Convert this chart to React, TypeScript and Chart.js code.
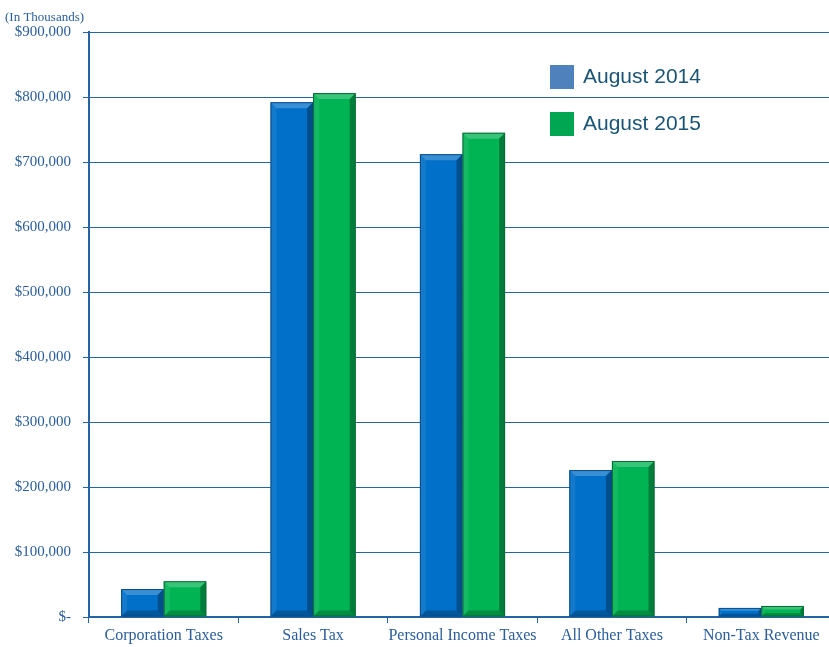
import React, { useEffect, useRef } from "react";
import { Chart, registerables } from "chart.js";

Chart.register(...registerables);

const categories = ["Corporation Taxes", "Sales Tax", "Personal Income Taxes", "All Other Taxes", "Non-Tax Revenue"];
const aug2014 = [43000, 792000, 712000, 226000, 14000];
const aug2015 = [55000, 806000, 745000, 240000, 17000];
const seriesNames = ["August 2014", "August 2015"];
const legendColors = ["#4F81BD", "#00A651"];
const barColors = ["#0070C8", "#00B454"];
const barEdges = ["#0A4A86", "#0B6B35"];

const AXIS = "#2464A4";
const TEXT = "#2A5D9B";

const bevelPlugin = {
  id: "bevel",
  afterDatasetsDraw(chart: any) {
    const ctx = chart.ctx;
    chart.data.datasets.forEach((ds: any, di: number) => {
      const meta = chart.getDatasetMeta(di);
      meta.data.forEach((bar: any) => {
        const { x, y, base, width } = bar.getProps(["x", "y", "base", "width"], true);
        const l = x - width / 2;
        const r = x + width / 2;
        const h = base - y;
        const b = Math.min(6, h / 3);
        ctx.save();
        ctx.fillStyle = "rgba(255,255,255,0.22)";
        ctx.beginPath();
        ctx.moveTo(l, y);
        ctx.lineTo(r, y);
        ctx.lineTo(r - b, y + b);
        ctx.lineTo(l + b, y + b);
        ctx.closePath();
        ctx.fill();
        ctx.fillStyle = "rgba(255,255,255,0.08)";
        ctx.beginPath();
        ctx.moveTo(l, y);
        ctx.lineTo(l + b, y + b);
        ctx.lineTo(l + b, base - b);
        ctx.lineTo(l, base);
        ctx.closePath();
        ctx.fill();
        ctx.fillStyle = "rgba(0,0,0,0.3)";
        ctx.beginPath();
        ctx.moveTo(r, y);
        ctx.lineTo(r, base);
        ctx.lineTo(r - b, base - b);
        ctx.lineTo(r - b, y + b);
        ctx.closePath();
        ctx.fill();
        ctx.fillStyle = "rgba(0,0,0,0.22)";
        ctx.beginPath();
        ctx.moveTo(l, base);
        ctx.lineTo(r, base);
        ctx.lineTo(r - b, base - b);
        ctx.lineTo(l + b, base - b);
        ctx.closePath();
        ctx.fill();
        ctx.strokeStyle = barEdges[di];
        ctx.lineWidth = 1;
        ctx.strokeRect(l + 0.5, y + 0.5, width - 1, h - 1);
        ctx.restore();
      });
    });
  },
};

const legendPlugin = {
  id: "customLegend",
  afterDraw(chart: any) {
    const ctx = chart.ctx;
    ctx.save();
    seriesNames.forEach((name, i) => {
      const top = 65 + i * 47;
      ctx.fillStyle = legendColors[i];
      ctx.fillRect(550, top, 24, 24);
      ctx.fillStyle = "#1B5575";
      ctx.font = "21px 'Liberation Sans', Arial, sans-serif";
      ctx.textBaseline = "middle";
      ctx.textAlign = "left";
      ctx.fillText(name, 583, top + 12);
    });
    ctx.fillStyle = TEXT;
    ctx.font = "13px 'Liberation Serif', serif";
    ctx.textBaseline = "alphabetic";
    ctx.fillText("(In Thousands)", 5, 21);
    ctx.restore();
  },
};

export default function App() {
  const ref = useRef<HTMLCanvasElement>(null);
  useEffect(() => {
    if (!ref.current) return;
    const chart = new Chart(ref.current, {
      type: "bar",
      data: {
        labels: categories,
        datasets: [
          { label: seriesNames[0], data: aug2014, backgroundColor: barColors[0], borderWidth: 0 },
          { label: seriesNames[1], data: aug2015, backgroundColor: barColors[1], borderWidth: 0 },
        ],
      },
      options: {
        animation: false,
        responsive: false,
        maintainAspectRatio: false,
        layout: { padding: { top: 32, right: 0, left: 0, bottom: 0 } },
        plugins: { legend: { display: false }, tooltip: { enabled: false } },
        datasets: { bar: { categoryPercentage: 0.57, barPercentage: 1.0 } },
        scales: {
          x: {
            grid: { display: true, drawOnChartArea: false, drawTicks: true, tickLength: 6, color: AXIS, offset: true },
            border: { display: true, color: AXIS, width: 2 },
            ticks: { color: TEXT, font: { family: "'Liberation Serif', serif", size: 16 }, padding: 3, maxRotation: 0, minRotation: 0, autoSkip: false },
            afterFit(scale: any) { scale.height = 30; },
          },
          y: {
            min: 0,
            max: 900000,
            ticks: {
              stepSize: 100000,
              color: TEXT,
              font: { family: "'Liberation Serif', serif", size: 15 },
              padding: 12,
              callback: (v: any) => (v === 0 ? "$-" : "$" + Number(v).toLocaleString("en-US")),
            },
            grid: { color: AXIS, lineWidth: 1, tickLength: 6 },
            border: { display: true, color: AXIS, width: 2 },
            afterFit(scale: any) { scale.width = 89; },
          },
        },
      },
      plugins: [bevelPlugin, legendPlugin],
    });
    return () => chart.destroy();
  }, []);
  return (
    <div style={{ position: "fixed", left: 0, top: 0, width: 829, height: 647, background: "#fff", overflow: "hidden" }}>
      <canvas ref={ref} width={836} height={647} style={{ display: "block" }} />
    </div>
  );
}
